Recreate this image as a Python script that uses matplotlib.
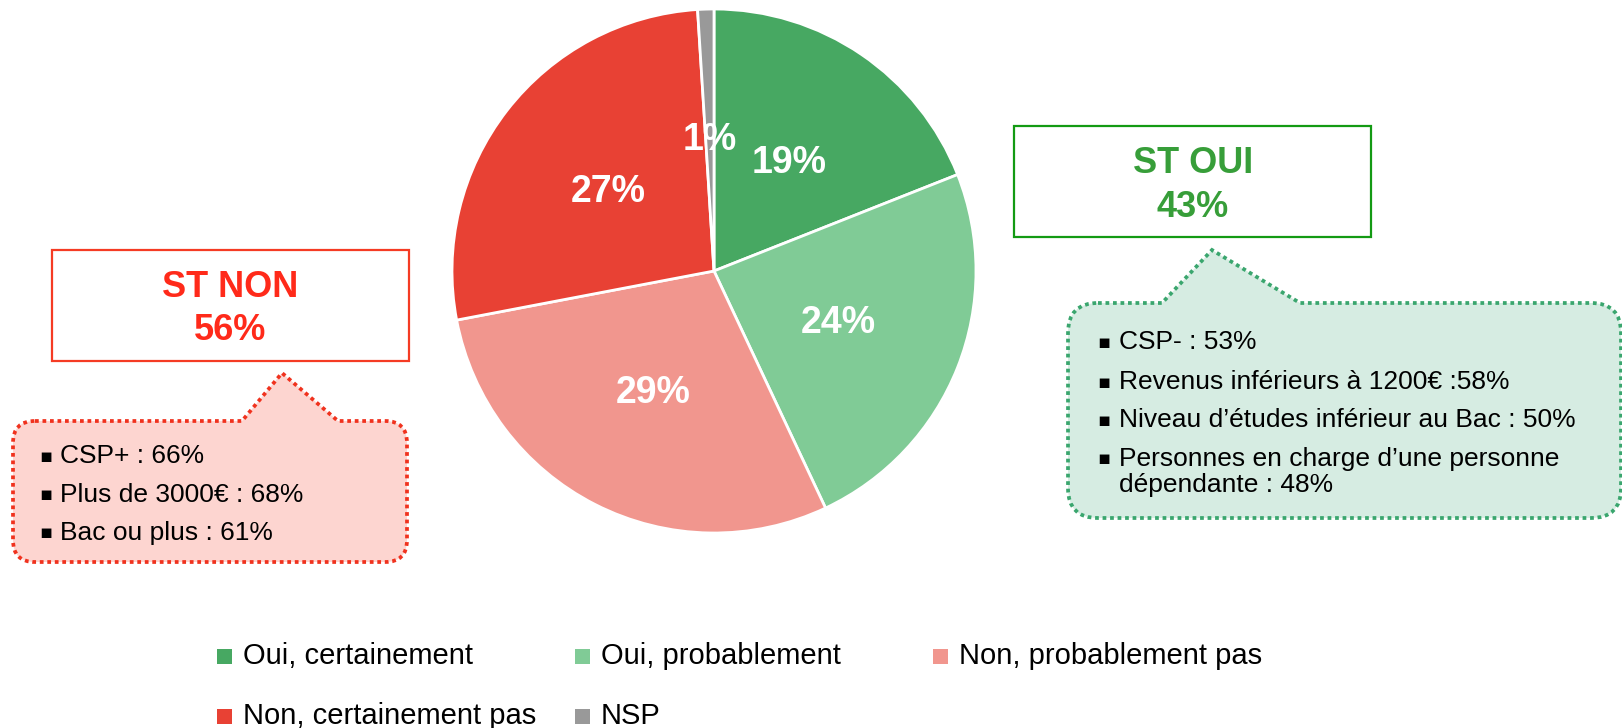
import matplotlib.pyplot as plt
from matplotlib.path import Path
from matplotlib.patches import PathPatch, Rectangle

# Données
labels = ['Oui, certainement', 'Oui, probablement', 'Non, probablement pas',
          'Non, certainement pas', 'NSP']
values = [19, 24, 29, 27, 1]
colors = ['#47a862', '#80cb96', '#f1968e', '#e84134', '#999999']

st_non = ['ST NON', '56%']
st_oui = ['ST OUI', '43%']
non_details = ['CSP+ : 66%', 'Plus de 3000€ : 68%', 'Bac ou plus : 61%']
oui_details = ['CSP- : 53%', 'Revenus inférieurs à 1200€ :58%',
               'Niveau d’études inférieur au Bac : 50%',
               'Personnes en charge d’une personne\ndépendante : 48%']

W, H = 1622, 728
FONT = 'Liberation Sans'
RED = '#ff2a1a'
GREEN = '#379e39'


def Y(y):
    # coordonnées pixel (haut -> bas) vers coordonnées données
    return H - y


def bubble(x0, y0, x1, y1, r, px0, tip, px1):
    """Rectangle arrondi avec une pointe sur le bord supérieur."""
    pts = [(x0 + r, y0), (px0, y0), tip, (px1, y0), (x1 - r, y0),
           (x1, y0), (x1, y0 + r), (x1, y1 - r),
           (x1, y1), (x1 - r, y1), (x0 + r, y1),
           (x0, y1), (x0, y1 - r), (x0, y0 + r),
           (x0, y0), (x0 + r, y0), (x0 + r, y0)]
    codes = [Path.MOVETO, Path.LINETO, Path.LINETO, Path.LINETO, Path.LINETO,
             Path.CURVE3, Path.CURVE3, Path.LINETO,
             Path.CURVE3, Path.CURVE3, Path.LINETO,
             Path.CURVE3, Path.CURVE3, Path.LINETO,
             Path.CURVE3, Path.CURVE3, Path.CLOSEPOLY]
    return Path([(x, Y(y)) for x, y in pts], codes)


fig = plt.figure(figsize=(W / 100, H / 100), dpi=100)
ax = fig.add_axes([0, 0, 1, 1])

# Camembert
wedges, texts, autotexts = ax.pie(
    values, colors=colors, startangle=90, counterclock=False,
    center=(714, Y(271)), radius=262, autopct='%.0f%%', pctdistance=0.51,
    wedgeprops=dict(edgecolor='white', linewidth=2),
    textprops=dict(color='white', fontsize=27, fontweight='bold', family=FONT),
    frame=False)
# léger décalage vers le bas des pourcentages
for t in autotexts:
    x, y = t.get_position()
    t.set_position((x, y - 3))

ax.set_xlim(0, W)
ax.set_ylim(0, H)
ax.set_aspect('equal')
ax.axis('off')

# Encadré ST NON
ax.add_patch(Rectangle((52, Y(361)), 357, 111, fill=False, edgecolor='#f53b24', linewidth=1.6))
ax.text(230, Y(297), st_non[0], color=RED, fontsize=26, fontweight='bold', family=FONT,
        ha='center', va='baseline')
ax.text(230, Y(340), st_non[1], color=RED, fontsize=26, fontweight='bold', family=FONT,
        ha='center', va='baseline')

# Encadré ST OUI
ax.add_patch(Rectangle((1014, Y(237)), 357, 111, fill=False, edgecolor='#139a13', linewidth=1.6))
ax.text(1193, Y(173), st_oui[0], color=GREEN, fontsize=26, fontweight='bold', family=FONT,
        ha='center', va='baseline')
ax.text(1193, Y(217), st_oui[1], color=GREEN, fontsize=26, fontweight='bold', family=FONT,
        ha='center', va='baseline')

# Bulles de détails
ax.add_patch(PathPatch(bubble(13, 421, 407, 562, 22, 242, (282, 373), 338),
                       facecolor='#fdd5d0', edgecolor='#f0321e', linewidth=2.7,
                       linestyle=(0, (1, 1)), capstyle='butt'))
ax.add_patch(PathPatch(bubble(1068, 303, 1621, 518, 30, 1162, (1212, 250), 1300),
                       facecolor='#d6ece2', edgecolor='#3aa66e', linewidth=2.7,
                       linestyle=(0, (1, 1)), capstyle='butt'))

for i, line in enumerate(non_details):
    y = 456 + i * 38.5
    ax.text(45.5, Y(y), '▪', fontsize=14, family='DejaVu Sans', ha='center', va='center')
    ax.text(60, Y(y), line, fontsize=19, family=FONT, ha='left', va='center')

oui_y = [342, 382, 420, 472]
for y, line in zip(oui_y, oui_details):
    ax.text(1104, Y(y if '\n' not in line else 458), '▪', fontsize=14,
            family='DejaVu Sans', ha='center', va='center')
    ax.text(1119, Y(y), line, fontsize=19, family=FONT, ha='left', va='center',
            linespacing=1.15)

# Légende
for i, (lab, col) in enumerate(zip(labels, colors)):
    row, c = divmod(i, 3)
    x = 217 + c * 358
    y = 656 + row * 60
    ax.add_patch(Rectangle((x, Y(y + 7.5)), 15, 15, facecolor=col, edgecolor='none'))
    ax.text(x + 26, Y(y), lab, fontsize=21, family=FONT, ha='left', va='center')

fig.savefig('out.png', dpi=100)
